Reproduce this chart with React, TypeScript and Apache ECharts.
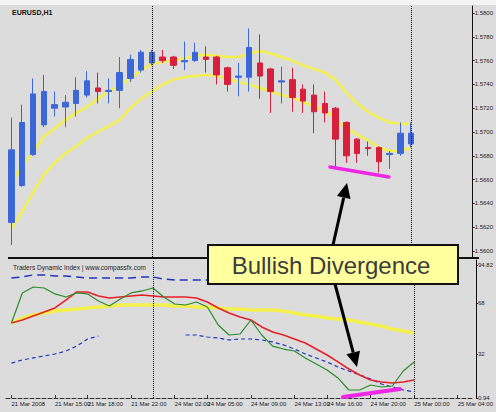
import React, { useEffect, useRef } from "react";
import * as echarts from "echarts";

// H1 bar times (43 slots, the last 5 are empty space on the right)
const times = [
  "21 Mar 11:00", "21 Mar 12:00", "21 Mar 13:00", "21 Mar 14:00", "21 Mar 15:00", "21 Mar 16:00",
  "21 Mar 17:00", "21 Mar 18:00", "21 Mar 19:00", "21 Mar 20:00", "21 Mar 21:00", "21 Mar 22:00",
  "21 Mar 23:00", "24 Mar 00:00", "24 Mar 01:00", "24 Mar 02:00", "24 Mar 03:00", "24 Mar 04:00",
  "24 Mar 05:00", "24 Mar 06:00", "24 Mar 07:00", "24 Mar 08:00", "24 Mar 09:00", "24 Mar 10:00",
  "24 Mar 11:00", "24 Mar 12:00", "24 Mar 13:00", "24 Mar 14:00", "24 Mar 15:00", "24 Mar 16:00",
  "24 Mar 17:00", "24 Mar 18:00", "24 Mar 19:00", "24 Mar 20:00", "24 Mar 21:00", "24 Mar 22:00",
  "24 Mar 23:00", "25 Mar 00:00", "25 Mar 01:00", "25 Mar 02:00", "25 Mar 03:00", "25 Mar 04:00",
  "25 Mar 05:00",
];
const timeLabelIdx = [0, 4, 7, 11, 15, 18, 22, 26, 29, 33, 37, 41];
const daySeparators = ["24 Mar 00:00", "25 Mar 00:00"];

const opens = [1.5624, 1.5655, 1.5681, 1.5706, 1.572, 1.5721, 1.5724, 1.5731, 1.5737, 1.5734, 1.5735, 1.5745, 1.5752, 1.5758, 1.5763, 1.5763, 1.5759, 1.576, 1.5763, 1.5763, 1.5754, 1.5746, 1.5746, 1.5758, 1.5753, 1.5742, 1.5744, 1.5736, 1.5731, 1.5724, 1.572, 1.5708, 1.5694, 1.5687, 1.5687, 1.5681, 1.5682, 1.569];
const closes = [1.5685, 1.5708, 1.5732, 1.5734, 1.5723, 1.5725, 1.5735, 1.5743, 1.5734, 1.5735, 1.575, 1.5761, 1.5767, 1.5767, 1.576, 1.5756, 1.576, 1.5767, 1.5761, 1.5748, 1.574, 1.5747, 1.5771, 1.5747, 1.5734, 1.5743, 1.5729, 1.5726, 1.5717, 1.5716, 1.5694, 1.568, 1.5682, 1.5686, 1.5675, 1.5682, 1.5699, 1.5699];
const lows = [1.5605, 1.5654, 1.568, 1.5704, 1.5713, 1.5704, 1.5713, 1.5729, 1.5724, 1.5724, 1.572, 1.5742, 1.575, 1.5756, 1.5758, 1.5753, 1.5752, 1.5759, 1.575, 1.574, 1.5734, 1.573, 1.5734, 1.5728, 1.5716, 1.5724, 1.5717, 1.5716, 1.5699, 1.5708, 1.5671, 1.5674, 1.5674, 1.568, 1.5666, 1.5669, 1.568, 1.5687];
const highs = [1.5712, 1.5723, 1.5745, 1.5748, 1.5734, 1.5731, 1.5746, 1.5751, 1.575, 1.5745, 1.5763, 1.5765, 1.5769, 1.5769, 1.5769, 1.5764, 1.5776, 1.5775, 1.5772, 1.5764, 1.5755, 1.5758, 1.5787, 1.5782, 1.5754, 1.5755, 1.5754, 1.574, 1.574, 1.5734, 1.5721, 1.5709, 1.5695, 1.5692, 1.5688, 1.5684, 1.5708, 1.5708];

const maUpper = [1.5658, 1.5671, 1.5683, 1.5696, 1.5703, 1.571, 1.5716, 1.5721, 1.5728, 1.5734, 1.5739, 1.5745, 1.5752, 1.5757, 1.5759, 1.576, 1.5762, 1.5764, 1.5765, 1.5764, 1.5763, 1.5763, 1.5766, 1.5768, 1.5766, 1.5763, 1.576, 1.5756, 1.5753, 1.575, 1.5744, 1.5733, 1.5724, 1.5717, 1.5712, 1.5708, 1.5707, 1.5707];
const maLower = [1.5619, 1.5633, 1.5649, 1.5664, 1.5674, 1.5682, 1.5688, 1.5695, 1.57, 1.5705, 1.571, 1.572, 1.5728, 1.5734, 1.574, 1.5744, 1.5746, 1.5747, 1.5748, 1.5747, 1.5745, 1.5742, 1.574, 1.5737, 1.5734, 1.5731, 1.5729, 1.5725, 1.5722, 1.5718, 1.5711, 1.5703, 1.5698, 1.5693, 1.5687, 1.5684, 1.5684, 1.5687];

const priceTicks = [1.56, 1.562, 1.564, 1.566, 1.568, 1.57, 1.572, 1.574, 1.576, 1.578, 1.58];

const tdiPrice = [53.9, 75.1, 79.3, 78.6, 74.4, 72.2, 75.1, 74.4, 69.4, 65.9, 70.8, 75.1, 76.5, 78.6, 72.2, 67.3, 66.6, 68.7, 65.2, 52.5, 45.4, 46.1, 56.0, 45.4, 37.6, 35.5, 34.1, 29.2, 24.9, 20.7, 15.1, 6.6, 6.6, 10.1, 8.7, 9.4, 20.0, 26.4];
const tdiSignal = [53.9, 56.0, 58.8, 61.6, 64.5, 70.1, 75.8, 75.8, 72.9, 71.5, 72.2, 72.9, 73.6, 72.9, 72.2, 72.2, 72.2, 71.5, 68.7, 64.5, 60.9, 58.1, 56.0, 51.1, 47.5, 45.4, 42.6, 39.8, 35.5, 31.3, 26.4, 21.4, 17.2, 13.6, 12.2, 11.5, 12.2, 13.6];
const tdiBase = [53.9, 57.4, 59.5, 60.9, 62.4, 63.1, 63.8, 64.5, 65.2, 65.9, 66.6, 66.6, 66.6, 66.6, 66.6, 65.9, 65.9, 65.2, 65.2, 64.5, 63.8, 63.8, 63.1, 63.1, 63.1, 62.4, 60.9, 59.5, 58.8, 57.4, 56.7, 56.0, 54.6, 53.2, 51.8, 49.6, 48.2, 46.8];
const tdiUpperBand = [85.6, 86.4, 87.8, 87.8, 87.1, 87.1, 86.4, 85.6, 85.6, 85.6, 85.6, 85.6, 86.4, 86.4, 84.9, 84.2, 84.2, 84.2, 84.2];
const tdiLowerBand = [25.6, 27.8, 29.2, 30.6, 32.0, 34.1, 37.6, 42.6, 44.7, null, null, null, null, null, null, null, 45.4, 45.4, 44.0, 43.3, 41.9, 42.6, 42.6, 41.9, 40.5, 38.4, 35.5, 32.0, 29.2, 26.4, 22.8, 20.0, 17.2, 14.4, 10.8, 8.7, 6.6, 5.2];
const tdiTicks = [0.94, 32, 68, 94.82];

const BLUE = "#3c67d8";
const RED = "#d81f3c";
const YEL = "#f3f04e";
const FONT = "Liberation Sans, Arial, sans-serif";

export default function App() {
  const ref = useRef<HTMLDivElement>(null);
  useEffect(() => {
    const chart = echarts.init(ref.current!, null, { renderer: "svg" });
    const candles = opens.map((o, i) => [o, closes[i], lows[i], highs[i]]);
    const sepLine = {
      symbol: "none",
      silent: true,
      label: { show: false },
      lineStyle: { color: "#000", type: "dotted", width: 1 },
      data: daySeparators.map((d) => ({ xAxis: d })),
    };
    const pxPerPrice = 238 / 0.02;
    const topMax = 1.58 + 7 / pxPerPrice;
    const topMin = 1.56 - 6 / pxPerPrice;
    const labelFn = (i: number) => timeLabelIdx.indexOf(i) >= 0;

    chart.setOption({
      animation: false,
      backgroundColor: "#dcdcdc",
      grid: [
        { left: 6, top: 6, width: 470, height: 251 },
        { left: 6, top: 260, width: 470, height: 138 },
      ],
      xAxis: [
        { type: "category", gridIndex: 0, data: times, boundaryGap: true, show: false },
        {
          type: "category",
          gridIndex: 1,
          data: times,
          boundaryGap: true,
          axisLine: { show: true, lineStyle: { color: "#333", type: "dashed", width: 1 } },
          axisTick: { show: true, inside: true, length: 3, alignWithLabel: true, interval: labelFn, lineStyle: { color: "#333" } },
          axisLabel: {
            interval: labelFn,
            formatter: (v: string, i: number) => (i === 0 ? "21 Mar 2008" : v),
            fontSize: 6,
            color: "#222",
            align: "left",
            margin: 3,
            fontFamily: FONT,
          },
          splitLine: { show: false },
        },
      ],
      yAxis: [
        {
          type: "value",
          gridIndex: 0,
          position: "right",
          offset: 2,
          min: topMin,
          max: topMax,
          axisLine: { show: true, lineStyle: { color: "#111", width: 1 } },
          axisTick: { show: true, length: 2, customValues: priceTicks, lineStyle: { color: "#111" } },
          axisLabel: { customValues: priceTicks, formatter: (v: number) => v.toFixed(4), fontSize: 6, color: "#222", margin: 2, fontFamily: FONT },
          splitLine: { show: false },
        },
        {
          type: "value",
          gridIndex: 1,
          position: "right",
          offset: 2,
          min: 0.94,
          max: 98.35,
          axisLine: { show: true, lineStyle: { color: "#111", width: 1 } },
          axisTick: { show: true, length: 2, customValues: tdiTicks, lineStyle: { color: "#111" } },
          axisLabel: {
            customValues: tdiTicks,
            formatter: (v: number) => (Number.isInteger(v) ? String(v) : v.toFixed(2)),
            fontSize: 6,
            color: "#222",
            margin: 2,
            fontFamily: FONT,
          },
          splitLine: { show: false },
        },
      ],
      series: [
        {
          type: "line",
          xAxisIndex: 0,
          yAxisIndex: 0,
          data: maLower,
          symbol: "none",
          lineStyle: { color: YEL, width: 2.5 },
          z: 2,
        },
        {
          type: "line",
          xAxisIndex: 0,
          yAxisIndex: 0,
          data: maUpper,
          symbol: "none",
          lineStyle: { color: YEL, width: 2.5 },
          z: 2,
        },
        {
          type: "candlestick",
          xAxisIndex: 0,
          yAxisIndex: 0,
          data: candles,
          barWidth: 6,
          itemStyle: { color: BLUE, color0: RED, borderColor: BLUE, borderColor0: RED, borderWidth: 1 },
          markLine: sepLine,
          z: 3,
        },
        {
          type: "line",
          xAxisIndex: 1,
          yAxisIndex: 1,
          data: tdiBase,
          symbol: "none",
          lineStyle: { color: YEL, width: 3.5 },
          markLine: sepLine,
        },
        {
          type: "line",
          xAxisIndex: 1,
          yAxisIndex: 1,
          data: tdiUpperBand,
          symbol: "none",
          lineStyle: { color: "#2233c4", width: 1.5, type: [8, 5] },
        },
        {
          type: "line",
          xAxisIndex: 1,
          yAxisIndex: 1,
          data: tdiLowerBand,
          symbol: "none",
          connectNulls: false,
          lineStyle: { color: "#2233c4", width: 1.2, type: [4, 3] },
        },
        {
          type: "line",
          xAxisIndex: 1,
          yAxisIndex: 1,
          data: tdiSignal,
          symbol: "none",
          lineStyle: { color: "#e8202a", width: 1.6 },
        },
        {
          type: "line",
          xAxisIndex: 1,
          yAxisIndex: 1,
          data: tdiPrice,
          symbol: "none",
          lineStyle: { color: "#2a8c2a", width: 1.2 },
        },
      ],
      graphic: [
        { type: "rect", shape: { x: 0, y: 0, width: 496, height: 5 }, style: { fill: "#f4f4f4" }, z: 0 },
        { type: "line", shape: { x1: 8, y1: 258, x2: 479, y2: 258 }, style: { stroke: "#111", lineWidth: 2 }, z: 50 },
        { type: "text", x: 12, y: 9, style: { text: "EURUSD,H1", fontSize: 7, fontWeight: "bold", fill: "#111", fontFamily: FONT }, z: 50 },
        {
          type: "text",
          x: 13,
          y: 264,
          style: { text: "Traders Dynamic Index | www.compassfx.com", fontSize: 6.5, fill: "#222", fontFamily: FONT },
          z: 50,
        },
        { type: "line", shape: { x1: 330, y1: 167, x2: 389, y2: 177 }, style: { stroke: "#f028e6", lineWidth: 3.5, lineCap: "round" }, z: 60 },
        { type: "line", shape: { x1: 343, y1: 397, x2: 400, y2: 389 }, style: { stroke: "#f028e6", lineWidth: 4, lineCap: "round" }, z: 60 },
        { type: "line", shape: { x1: 333, y1: 245, x2: 343.7, y2: 197.6 }, style: { stroke: "#000", lineWidth: 3 }, z: 70 },
        { type: "polygon", shape: { points: [[347, 183], [350.5, 199.1], [336.9, 196.1]] }, style: { fill: "#000" }, z: 70 },
        { type: "line", shape: { x1: 335, y1: 284, x2: 353.2, y2: 352.5 }, style: { stroke: "#000", lineWidth: 3 }, z: 70 },
        { type: "polygon", shape: { points: [[357, 367], [360, 350.7], [346.4, 354.3]] }, style: { fill: "#000" }, z: 70 },
        {
          type: "rect",
          shape: { x: 208, y: 245, width: 250, height: 39 },
          style: { fill: "#ffff9e", stroke: "#111", lineWidth: 2 },
          z: 80,
        },
        {
          type: "text",
          x: 331,
          y: 265,
          style: {
            text: "Bullish Divergence",
            fontSize: 24,
            fill: "#3c3c3c",
            fontFamily: FONT,
            textAlign: "center",
            textVerticalAlign: "middle",
          },
          z: 81,
        },
      ],
    });
    return () => chart.dispose();
  }, []);
  return <div ref={ref} style={{ position: "absolute", left: 0, top: 0, width: 496, height: 412 }} />;
}
